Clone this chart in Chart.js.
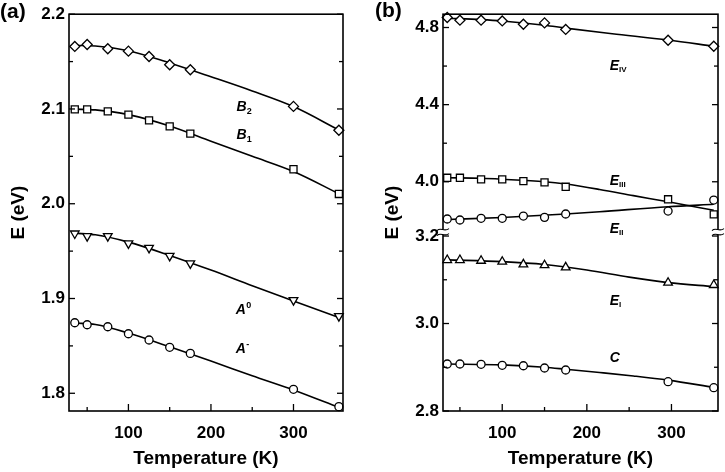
<!DOCTYPE html>
<html><head><meta charset="utf-8">
<script src="https://cdn.jsdelivr.net/npm/chart.js@4/dist/chart.umd.min.js"></script>
<style>
html,body{margin:0;padding:0;background:#fff;}
#wrap{position:relative;width:725px;height:472px;overflow:hidden;background:#fff;}
canvas{position:absolute;top:0;}
.panel{position:absolute;top:-3px;font:bold 21px "Liberation Sans",Arial,sans-serif;line-height:1;color:#000;}
</style></head><body>
<div id="wrap">
<canvas id="ca" width="362" height="472" style="left:0;width:362px;height:472px"></canvas>
<canvas id="cb" width="351" height="472" style="left:374px;width:351px;height:472px"></canvas>
<div class="panel" style="left:0px;top:0px">(a)</div>
<div class="panel" style="left:375px;top:-1px">(b)</div>
</div>
<script>
// ---------- Panel (a) data ----------
const tempA = [35, 50, 75, 100, 125, 150, 175, 300, 355];
const B2 = [2.166, 2.168, 2.1635, 2.161, 2.1554, 2.1467, 2.1414, 2.1027, 2.0775];
const B1 = [2.0996, 2.0996, 2.0975, 2.094, 2.088, 2.0817, 2.074, 2.0364, 2.0103];
const A0 = [1.9686, 1.9658, 1.9658, 1.9581, 1.9534, 1.945, 1.937, 1.8983, 1.8814];
const Am = [1.8744, 1.8723, 1.8702, 1.8628, 1.8562, 1.8485, 1.8421, 1.8042, 1.7859];
// fitted curves
const fitTA = [35, 60, 100, 150, 200, 250, 300, 355];
const fitB2 = [2.167, 2.1665, 2.1615, 2.1485, 2.134, 2.119, 2.1025, 2.0778];
const fitB1 = [2.0998, 2.099, 2.094, 2.082, 2.066, 2.05, 2.034, 2.0105];
const fitA0 = [1.969, 1.9672, 1.9595, 1.9455, 1.93, 1.9135, 1.8975, 1.88];
const fitAm = [1.8742, 1.8725, 1.8635, 1.849, 1.834, 1.8185, 1.8035, 1.785];

// ---------- Panel (b) data ----------
const tempB = [35, 50, 75, 100, 125, 150, 175, 296, 350];
const EIV = [4.852, 4.838, 4.838, 4.834, 4.817, 4.824, 4.790, 4.734, 4.703];
const EIII = [4.0207, 4.0207, 4.0124, 4.0124, 4.0036, 3.997, 3.974, 3.909, 3.831];
const EII = [3.2389, 3.2366, 3.2405, 3.2405, 3.2457, 3.2427, 3.2503, 3.2571, 3.2823];
const EI = [3.1451, 3.1451, 3.1435, 3.1413, 3.1353, 3.1333, 3.1285, 3.0933, 3.088];
const EC = [2.9074, 2.9074, 2.9067, 2.9045, 2.9035, 2.8983, 2.8937, 2.867, 2.8533];
const fitTIV = [35, 75, 100, 150, 175, 230, 296, 350];
const fitIV = [4.848, 4.841, 4.834, 4.812, 4.797, 4.768, 4.735, 4.703];
const fitTIII = [35, 75, 100, 150, 175, 215, 255, 296, 350];
const fitIII = [4.021, 4.018, 4.013, 4.0, 3.988, 3.96, 3.928, 3.896, 3.852];
const fitTII = [35, 100, 175, 215, 296, 350];
const fitII = [3.2377, 3.2423, 3.2503, 3.2555, 3.267, 3.2725];
const fitTI = [35, 100, 150, 200, 250, 296, 350];
const fitI = [3.1455, 3.1415, 3.135, 3.1225, 3.106, 3.0935, 3.0845];
const fitTC = [35, 100, 150, 175, 215, 255, 296, 350];
const fitC = [2.9075, 2.9055, 2.900, 2.8955, 2.888, 2.880, 2.8705, 2.854];

// ---------- tick labels ----------
const xTicks = [100, 200, 300];
const xMinor = [50, 150, 250];
const yTicksA = [1.8, 1.9, 2.0, 2.1, 2.2];
const yMinorA = [1.85, 1.95, 2.05, 2.15];
const yTicksUpper = [4.0, 4.4, 4.8];
const yMinorUpper = [4.2, 4.6];
const yTicksLower = [2.8, 3.0, 3.2];
const yMinorLower = [2.9, 3.1];

// ---------- series labels ----------
const labelsA = [
  {t: 'B', s: '2', mode: 'sub', x: 231, y: 2.0978},
  {t: 'B', s: '1', mode: 'sub', x: 231, y: 2.0687},
  {t: 'A', s: '0', mode: 'sup', x: 230, y: 1.8836},
  {t: 'A', s: '-', mode: 'sup', x: 230, y: 1.8428}
];
const labelsB = [
  {t: 'E', s: 'IV', mode: 'sub', x: 227, y: 4.579, axis: 'yU'},
  {t: 'E', s: 'III', mode: 'sub', x: 227, y: 3.983, axis: 'yU'},
  {t: 'E', s: 'II', mode: 'sub', x: 227, y: 3.2069, axis: 'yL'},
  {t: 'E', s: 'I', mode: 'sub', x: 227, y: 3.0423, axis: 'yL'},
  {t: 'C', s: '', mode: 'sub', x: 227, y: 2.912, axis: 'yL'}
];

const FONT = "'Liberation Sans', Arial, sans-serif";
Chart.defaults.font.family = FONT;
Chart.defaults.color = '#000';

const pts = (xs, ys) => xs.map((x, i) => ({x: x, y: ys[i]}));
function markers(xs, ys, style, rad, rot, axis) {
  return {data: pts(xs, ys), pointStyle: style, pointRadius: rad, pointRotation: rot || 0,
    pointBackgroundColor: '#fff', pointBorderColor: '#000', pointBorderWidth: 1.3,
    showLine: false, yAxisID: axis || 'y', order: 0, clip: false};
}
function fit(xs, ys, axis) {
  return {data: pts(xs, ys), showLine: true, pointRadius: 0, borderColor: '#000', borderWidth: 1.6,
    cubicInterpolationMode: 'monotone', fill: false, yAxisID: axis || 'y', order: 1, clip: false};
}

const framePlugin = {
  id: 'frame',
  afterDatasetsDraw(chart, args, o) {
    const ctx = chart.ctx, a = chart.chartArea;
    ctx.save();
    ctx.strokeStyle = '#000';
    ctx.lineWidth = 1.6;
    ctx.strokeRect(a.left, a.top, a.right - a.left, a.bottom - a.top);
    ctx.lineWidth = 1.3;
    const seg = (x1, y1, x2, y2) => { ctx.beginPath(); ctx.moveTo(x1, y1); ctx.lineTo(x2, y2); ctx.stroke(); };
    for (const g of o.yGroups) {
      const s = chart.scales[g.axis];
      for (const v of g.major) { const y = s.getPixelForValue(v); seg(a.left, y, a.left + 6, y); seg(a.right, y, a.right - 6, y); }
      for (const v of g.minor) { const y = s.getPixelForValue(v); seg(a.left, y, a.left + 4, y); seg(a.right, y, a.right - 4, y); }
    }
    const sx = chart.scales.x;
    for (const v of o.xMajor) { const x = sx.getPixelForValue(v); seg(x, a.bottom, x, a.bottom - 7); }
    for (const v of o.xMinor) { const x = sx.getPixelForValue(v); seg(x, a.bottom, x, a.bottom - 4); }
    if (o.breakAxis) {
      const yb = chart.scales[o.breakAxis].top;
      for (const x of [a.left, a.right]) {
        ctx.fillStyle = '#fff';
        ctx.fillRect(x - 2, yb - 2.5, 4, 5);
        ctx.lineWidth = 1.1;
        for (const d of [-2.5, 2.5]) {
          ctx.beginPath();
          ctx.moveTo(x - 6, yb + d + 1);
          ctx.bezierCurveTo(x - 2, yb + d - 3, x + 1, yb + d + 3, x + 6, yb + d - 1);
          ctx.stroke();
        }
      }
    }
    // series labels
    ctx.fillStyle = '#000';
    ctx.textBaseline = 'alphabetic';
    ctx.textAlign = 'left';
    for (const l of o.labels) {
      const x = sx.getPixelForValue(l.x);
      const y = chart.scales[l.axis || 'y'].getPixelForValue(l.y);
      ctx.font = 'italic bold 14px ' + FONT;
      ctx.fillText(l.t, x, y);
      const w = ctx.measureText(l.t).width;
      if (l.s) {
        if (l.mode === 'sup') { ctx.font = 'bold 9px ' + FONT; ctx.fillText(l.s, x + w + 0.5, y - 6); }
        else if (/^I/.test(l.s)) { ctx.font = 'bold 8px ' + FONT; ctx.fillText(l.s, x + w, y + 2); }
        else { ctx.font = 'bold 9px ' + FONT; ctx.fillText(l.s, x + w, y + 3); }
      }
    }
    ctx.restore();
  }
};

const tickFont = {size: 17, weight: 'bold'};
const titleFont = {size: 19, weight: 'bold'};
function xScale(min, max) {
  return {type: 'linear', min: min, max: max, position: 'bottom',
    grid: {display: false, drawTicks: false}, border: {display: false},
    afterBuildTicks: s => { s.ticks = xTicks.map(v => ({value: v})); },
    afterFit: s => { s.height = 61; },
    ticks: {font: tickFont, padding: 12, callback: v => String(v), maxRotation: 0},
    title: {display: true, text: 'Temperature (K)', font: titleFont, padding: {top: 0, bottom: 2}}};
}
function yScale(min, max, ticksArr, extra) {
  return Object.assign({type: 'linear', min: min, max: max, position: 'left',
    grid: {display: false, drawTicks: false}, border: {display: false},
    afterBuildTicks: s => { s.ticks = ticksArr.map(v => ({value: v})); },
    afterFit: s => { s.width = 69; },
    ticks: {font: tickFont, padding: 4, callback: v => Number(v).toFixed(1)}}, extra || {});
}

const yTitle = {display: true, text: 'E (eV)', font: titleFont, padding: {top: 7, bottom: 0}};

new Chart(document.getElementById('ca'), {
  type: 'scatter',
  data: {datasets: [
    markers(tempA, B2, 'rectRot', 5), fit(fitTA, fitB2),
    markers(tempA, B1, 'rect', 5), fit(fitTA, fitB1),
    markers(tempA, A0, 'triangle', 5, 180), fit(fitTA, fitA0),
    markers(tempA, Am, 'circle', 4), fit(fitTA, fitAm)
  ]},
  options: {
    responsive: false, animation: false, devicePixelRatio: 1,
    layout: {padding: {left: 0, right: 19, top: 14, bottom: 0}},
    plugins: {legend: {display: false}, tooltip: {enabled: false},
      frame: {yGroups: [{axis: 'y', major: yTicksA, minor: yMinorA}], xMajor: xTicks, xMinor: xMinor, labels: labelsA}},
    scales: {
      x: xScale(28, 360),
      y: yScale(1.7813, 2.2, yTicksA, {title: yTitle})
    }
  },
  plugins: [framePlugin]
});

new Chart(document.getElementById('cb'), {
  type: 'scatter',
  data: {datasets: [
    markers(tempB, EIV, 'rectRot', 5, 0, 'yU'), fit(fitTIV, fitIV, 'yU'),
    markers(tempB, EIII, 'rect', 5, 0, 'yU'), fit(fitTIII, fitIII, 'yU'),
    markers(tempB, EII, 'circle', 4, 0, 'yL'), fit(fitTII, fitII, 'yL'),
    markers(tempB, EI, 'triangle', 5, 0, 'yL'), fit(fitTI, fitI, 'yL'),
    markers(tempB, EC, 'circle', 4, 0, 'yL'), fit(fitTC, fitC, 'yL')
  ]},
  options: {
    responsive: false, animation: false, devicePixelRatio: 1,
    layout: {padding: {left: 0, right: 7, top: 14, bottom: 0}},
    plugins: {legend: {display: false}, tooltip: {enabled: false},
      frame: {yGroups: [{axis: 'yU', major: yTicksUpper, minor: yMinorUpper}, {axis: 'yL', major: yTicksLower, minor: yMinorLower}],
        xMajor: xTicks, xMinor: xMinor, labels: labelsB, breakAxis: 'yL'}},
    scales: {
      x: xScale(30, 355),
      yU: yScale(3.739, 4.869, yTicksUpper, {stack: 'e', stackWeight: 218, weight: 2}),
      yL: yScale(2.8, 3.209, yTicksLower, {stack: 'e', stackWeight: 179, weight: 1})
    }
  },
  plugins: [framePlugin, {
    id: 'stackTitle',
    afterDraw(chart) {
      const ctx = chart.ctx, a = chart.chartArea;
      ctx.save();
      ctx.font = 'bold 19px ' + FONT;
      ctx.fillStyle = '#000';
      ctx.textAlign = 'center'; ctx.textBaseline = 'middle';
      ctx.translate(18.4, (a.top + a.bottom) / 2);
      ctx.rotate(-Math.PI / 2);
      ctx.fillText('E (eV)', 0, 0);
      ctx.restore();
    }
  }]
});
</script>
</body></html>
